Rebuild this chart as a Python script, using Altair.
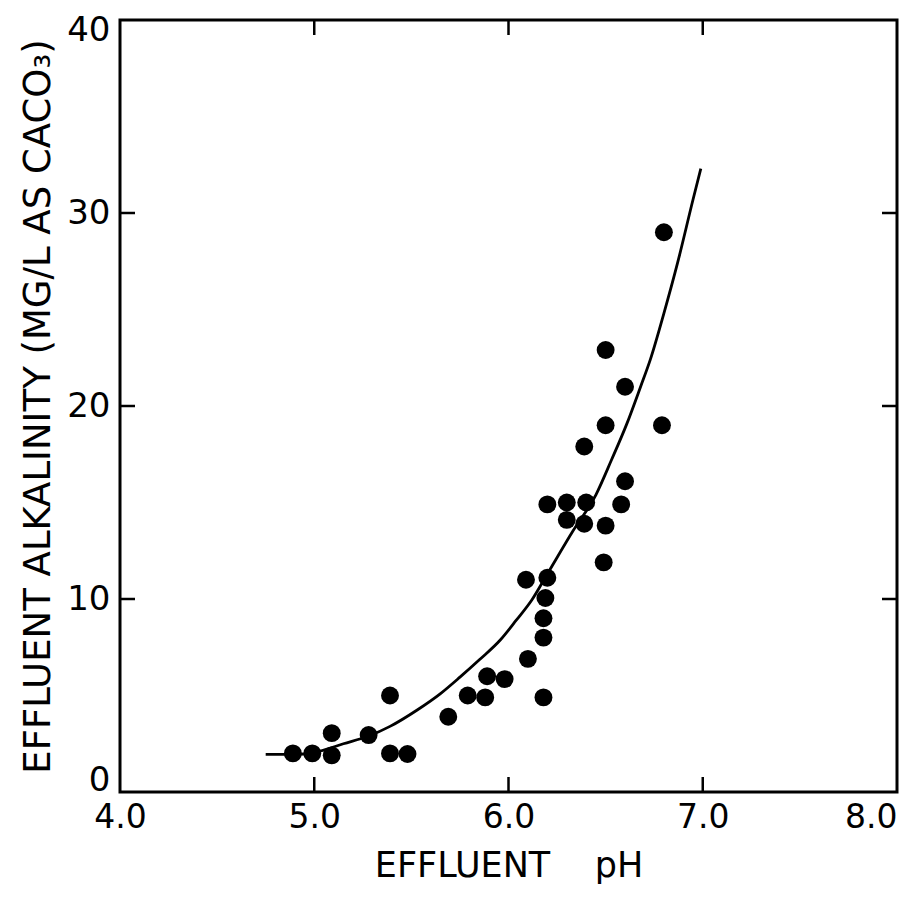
import altair as alt
import pandas as pd

# Observed data points (effluent pH, alkalinity mg/L as CaCO3)
ph_obs = [4.89, 4.99, 5.09, 5.09, 5.28, 5.39, 5.39, 5.48, 5.69, 5.79, 5.89, 5.88,
          5.98, 6.10, 6.09, 6.18, 6.18, 6.18, 6.19, 6.20, 6.20, 6.30, 6.30, 6.40,
          6.39, 6.39, 6.50, 6.49, 6.50, 6.50, 6.60, 6.58, 6.60, 6.79, 6.80]
alk_obs = [2.0, 2.0, 1.9, 3.05, 2.95, 5.0, 2.0, 1.97, 3.9, 5.0, 6.0, 4.9,
           5.85, 6.9, 11.0, 4.9, 8.0, 9.0, 10.05, 11.1, 14.9, 15.0, 14.1, 15.0,
           13.9, 17.9, 13.8, 11.9, 19.0, 22.9, 16.1, 14.9, 21.0, 19.0, 29.0]

# Fitted curve
ph_curve = [4.75, 4.85, 4.95, 5.01, 5.15, 5.28, 5.39, 5.53, 5.65, 5.75, 5.85,
            5.96, 6.04, 6.12, 6.20, 6.33, 6.45, 6.53, 6.61, 6.68, 6.73, 6.80,
            6.87, 6.95, 6.99]
alk_curve = [1.95, 1.95, 1.97, 2.07, 2.5, 2.9, 3.4, 4.25, 5.1, 5.95, 6.85,
             7.9, 8.9, 9.95, 11.3, 13.5, 15.4, 17.2, 19.1, 21.0, 22.4, 24.8,
             27.4, 30.7, 32.3]

x_ticks = [4.0, 5.0, 6.0, 7.0, 8.0]
y_ticks = [0, 10, 20, 30, 40]
x_inner = [5.0, 6.0, 7.0]
y_inner = [10, 20, 30]

W, H = 777, 772
TL = 15
FONT = "DejaVu Sans"

obs = pd.DataFrame({"ph": ph_obs, "alk": alk_obs})
curve = pd.DataFrame({"ph": ph_curve, "alk": alk_curve})
xi = pd.DataFrame({"ph": x_inner})
yi = pd.DataFrame({"alk": y_inner})

xs = alt.Scale(domain=[4, 8], nice=False, zero=False)
ys = alt.Scale(domain=[0, 40], nice=False, zero=False)

XT = "EFFLUENT\u00a0\u00a0\u00a0\u00a0pH"
YT = "EFFLUENT ALKALINITY (MG/L AS CACO\u2083)"

xaxis = alt.Axis(values=x_ticks, format=".1f", ticks=False, domain=False, grid=False,
                 labelFont=FONT, labelFontSize=33, labelColor="black", labelPadding=9,
                 labelFlush=False, labelOverlap=False,
                 labelAlign=alt.ExprRef(expr="datum.value == 8 ? 'right' : 'center'"),
                 title=XT, titleFont=FONT, titleFontSize=35,
                 titleFontWeight="normal", titleColor="black", titlePadding=14)
yaxis = alt.Axis(values=y_ticks, ticks=False, domain=False, grid=False,
                 labelFont=FONT, labelFontSize=34, labelColor="black", labelPadding=10,
                 labelFlush=False, labelOverlap=False,
                 labelOffset=alt.ExprRef(expr="datum.value == 40 ? 10 : (datum.value == 0 ? -12 : 0)"),
                 title=YT, titleFont=FONT,
                 titleFontSize=37, titleFontWeight="normal", titleColor="black",
                 titlePadding=9)

X = alt.X("ph:Q", scale=xs, axis=xaxis, title=XT)
Y = alt.Y("alk:Q", scale=ys, axis=yaxis, title=YT)

points = alt.Chart(obs).mark_circle(size=320, color="black", opacity=1).encode(x=X, y=Y)
line = alt.Chart(curve).mark_line(color="black", strokeWidth=2.8,
                                  interpolate="monotone").encode(x=X, y=Y)
tb = alt.Chart(xi).mark_rule(color="black", strokeWidth=2.5).encode(
    x=X, y=alt.value(H), y2=alt.value(H - TL))
tt = alt.Chart(xi).mark_rule(color="black", strokeWidth=2.5).encode(
    x=X, y=alt.value(0), y2=alt.value(TL))
tl = alt.Chart(yi).mark_rule(color="black", strokeWidth=2.5).encode(
    y=Y, x=alt.value(0), x2=alt.value(TL))
tr = alt.Chart(yi).mark_rule(color="black", strokeWidth=2.5).encode(
    y=Y, x=alt.value(W), x2=alt.value(W - TL))

chart = alt.layer(points, line, tb, tt, tl, tr).properties(
    width=W, height=H,
    autosize=alt.AutoSizeParams(type="none"),
    padding={"left": 112, "top": 12, "right": 6, "bottom": 100},
    background="white",
).configure_view(stroke="black", strokeWidth=3)

chart.save("out.html", embed_options={"renderer": "svg", "actions": False})
